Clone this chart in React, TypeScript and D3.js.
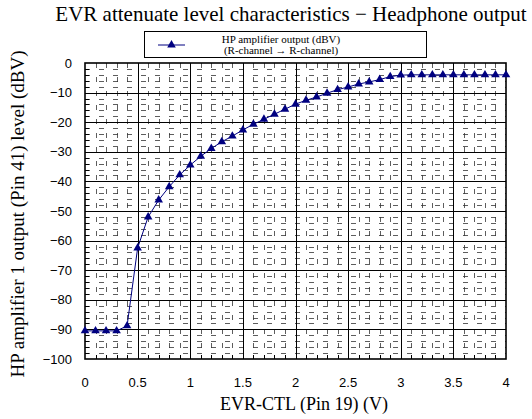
import * as d3 from "d3";
import { useEffect, useRef } from "react";

// EVR-CTL voltage (V), 0.1 V steps
const volts = [
  0, 0.1, 0.2, 0.3, 0.4, 0.5, 0.6, 0.7, 0.8, 0.9, 1.0,
  1.1, 1.2, 1.3, 1.4, 1.5, 1.6, 1.7, 1.8, 1.9, 2.0,
  2.1, 2.2, 2.3, 2.4, 2.5, 2.6, 2.7, 2.8, 2.9, 3.0,
  3.1, 3.2, 3.3, 3.4, 3.5, 3.6, 3.7, 3.8, 3.9, 4.0,
];
// HP amplifier output (dBV)
const levels = [
  -90.5, -90.5, -90.5, -90.5, -88.8, -62.5, -52, -46.3, -41.8, -37.8, -34.5,
  -31.5, -28.9, -26.6, -24.7, -22.6, -20.7, -19, -17.3, -15.6, -13.9,
  -12.6, -11.5, -10.2, -9, -8.1, -7.1, -6.4, -5.6, -4.6, -4.1,
  -4, -4, -4, -4, -4, -4, -4, -4, -4, -4,
];
const xTicks = [0, 0.5, 1, 1.5, 2, 2.5, 3, 3.5, 4];
const xTickLabels = ["0", "0.5", "1", "1.5", "2", "2.5", "3", "3.5", "4"];
const yTicks = [0, -10, -20, -30, -40, -50, -60, -70, -80, -90, -100];

const serif = "'Liberation Serif', 'DejaVu Serif', serif";
const sans = "'Liberation Sans', Arial, sans-serif";

export default function App() {
  const ref = useRef<SVGSVGElement | null>(null);
  useEffect(() => {
    if (!ref.current) return;
    const svg = d3.select(ref.current);
    svg.selectAll("*").remove();

    const left = 85, right = 506, top = 63, bottom = 359;
    const x = d3.scaleLinear().domain([0, 4]).range([left, right]);
    const y = d3.scaleLinear().domain([-100, 0]).range([bottom, top]);

    svg.append("rect").attr("width", 532).attr("height", 419).attr("fill", "#fff");

    // minor dashed grid
    const g = svg.append("g");
    const minorX = d3.range(1, 40).map((i) => i / 10).filter((_, i) => (i + 1) % 5 !== 0);
    const minorY = d3.range(-98, 0, 2).filter((v) => v % 10 !== 0);
    g.selectAll("line.mx")
      .data(minorX)
      .enter()
      .append("line")
      .attr("x1", (d) => Math.round(x(d)) + 0.5)
      .attr("x2", (d) => Math.round(x(d)) + 0.5)
      .attr("y1", top)
      .attr("y2", bottom)
      .attr("stroke", "#333")
      .attr("stroke-width", 0.8)
      .attr("stroke-dasharray", "5,9");
    g.selectAll("line.my")
      .data(minorY)
      .enter()
      .append("line")
      .attr("x1", left)
      .attr("x2", right)
      .attr("y1", (d) => Math.round(y(d)) + 0.5)
      .attr("y2", (d) => Math.round(y(d)) + 0.5)
      .attr("stroke", "#333")
      .attr("stroke-width", 0.8)
      .attr("stroke-dasharray", "5,9");

    // major grid
    g.selectAll("line.Mx")
      .data(xTicks.slice(1, -1))
      .enter()
      .append("line")
      .attr("x1", (d) => Math.round(x(d)) + 0.5)
      .attr("x2", (d) => Math.round(x(d)) + 0.5)
      .attr("y1", top)
      .attr("y2", bottom)
      .attr("stroke", "#000");
    g.selectAll("line.My")
      .data(yTicks.slice(1, -1))
      .enter()
      .append("line")
      .attr("x1", left)
      .attr("x2", right)
      .attr("y1", (d) => Math.round(y(d)) + 0.5)
      .attr("y2", (d) => Math.round(y(d)) + 0.5)
      .attr("stroke", "#000");

    // inner minor ticks on bottom and left
    g.selectAll("line.tx")
      .data(d3.range(1, 40).map((i) => i / 10))
      .enter()
      .append("line")
      .attr("x1", (d) => Math.round(x(d)) + 0.5)
      .attr("x2", (d) => Math.round(x(d)) + 0.5)
      .attr("y1", bottom)
      .attr("y2", bottom - 4)
      .attr("stroke", "#000");
    g.selectAll("line.ty")
      .data(d3.range(-98, 0, 2))
      .enter()
      .append("line")
      .attr("x1", left)
      .attr("x2", left + 4)
      .attr("y1", (d) => Math.round(y(d)) + 0.5)
      .attr("y2", (d) => Math.round(y(d)) + 0.5)
      .attr("stroke", "#000");

    // frame
    svg.append("rect")
      .attr("x", left)
      .attr("y", top)
      .attr("width", right - left)
      .attr("height", bottom - top)
      .attr("fill", "none")
      .attr("stroke", "#000")
      .attr("stroke-width", 1.6);

    // tick labels
    svg.append("g")
      .selectAll("text")
      .data(xTicks)
      .enter()
      .append("text")
      .attr("x", (d) => x(d))
      .attr("y", 387)
      .attr("text-anchor", "middle")
      .attr("font-family", sans)
      .attr("font-size", 13)
      .text((_, i) => xTickLabels[i]);
    svg.append("g")
      .selectAll("text")
      .data(yTicks)
      .enter()
      .append("text")
      .attr("x", 72)
      .attr("y", (d) => y(d) + 4.5)
      .attr("text-anchor", "end")
      .attr("font-family", sans)
      .attr("font-size", 13)
      .text((d) => (d < 0 ? "\u2212" + Math.abs(d) : String(d)));

    // series
    const pts = volts.map((v, i) => [v, levels[i]] as [number, number]);
    const line = d3.line<[number, number]>().x((d) => x(d[0])).y((d) => y(d[1]));
    svg.append("path")
      .attr("d", line(pts))
      .attr("fill", "none")
      .attr("stroke", "#000080")
      .attr("stroke-width", 1);
    const tri = d3.symbol().type(d3.symbolTriangle).size(32);
    svg.append("g")
      .selectAll("path")
      .data(pts)
      .enter()
      .append("path")
      .attr("d", tri())
      .attr("transform", (d) => `translate(${x(d[0])},${y(d[1])})`)
      .attr("fill", "#000080");

    // title
    svg.append("text")
      .attr("x", 291)
      .attr("y", 21)
      .attr("text-anchor", "middle")
      .attr("font-family", serif)
      .attr("font-size", 21)
      .text("EVR attenuate level characteristics \u2212 Headphone output");

    // legend
    const lg = svg.append("g");
    lg.append("rect")
      .attr("x", 144.5)
      .attr("y", 31.5)
      .attr("width", 282)
      .attr("height", 26)
      .attr("fill", "#fff")
      .attr("stroke", "#000")
      .attr("stroke-width", 1);
    lg.append("line")
      .attr("x1", 158)
      .attr("x2", 185)
      .attr("y1", 45)
      .attr("y2", 45)
      .attr("stroke", "#000080");
    lg.append("path")
      .attr("d", tri())
      .attr("transform", "translate(171.5,45)")
      .attr("fill", "#000080");
    lg.append("text")
      .attr("x", 281)
      .attr("y", 42.5)
      .attr("text-anchor", "middle")
      .attr("font-family", serif)
      .attr("font-size", 11)
      .text("HP amplifier output (dBV)");
    lg.append("text")
      .attr("x", 281)
      .attr("y", 54)
      .attr("text-anchor", "middle")
      .attr("font-family", serif)
      .attr("font-size", 11)
      .text("(R-channel \u2192 R-channel)");

    // axis titles
    svg.append("text")
      .attr("x", 304)
      .attr("y", 410)
      .attr("text-anchor", "middle")
      .attr("font-family", serif)
      .attr("font-size", 18)
      .text("EVR-CTL (Pin 19)  (V)");
    svg.append("text")
      .attr("transform", "translate(24,214) rotate(-90)")
      .attr("text-anchor", "middle")
      .attr("font-family", serif)
      .attr("font-size", 19)
      .text("HP amplifier 1 output (Pin 41) level  (dBV)");
  }, []);
  return (
    <svg
      ref={ref}
      width={532}
      height={419}
      viewBox="0 0 532 419"
      style={{ position: "absolute", left: 0, top: 0, display: "block" }}
    />
  );
}
